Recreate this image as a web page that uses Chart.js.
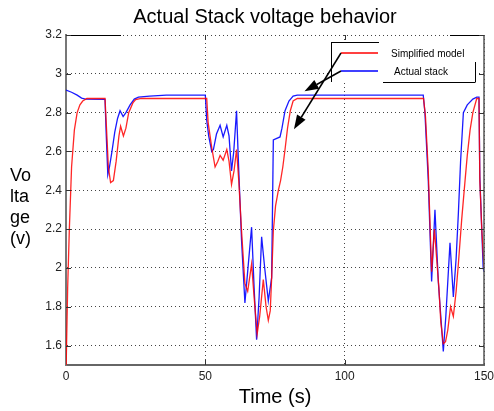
<!DOCTYPE html>
<html>
<head>
<meta charset="utf-8">
<script src="https://cdn.jsdelivr.net/npm/chart.js@4/dist/chart.umd.min.js"></script>
<style>
  html, body { margin: 0; padding: 0; background: #fff; }
  canvas { display: block; }
</style>
</head>
<body>
<canvas id="myChart" width="494" height="411"></canvas>
<script>
// axis ticks
const xTicks = [0, 50, 100, 150];
const yTicks = [1.6, 1.8, 2.0, 2.2, 2.4, 2.6, 2.8, 3.0, 3.2];

// Simplified model (red)
const modelTime = [0, 0.6, 1.2, 2.0, 3.0, 4.0, 5.0, 6.0, 7.5, 14.0, 14.6, 15.2, 16.0, 17.0, 18.0, 19.0, 19.6, 20.6, 21.5, 22.5, 24.0, 25.0, 27.0,
  50.5, 51.0, 52.3, 53.5, 54.5, 55.3, 56.4, 57.7, 58.5, 59.4, 60.3, 61.2, 62.0, 63.0, 64.2, 65.2, 66.6, 67.5, 68.6, 69.5, 70.8, 71.8, 72.6, 73.3, 73.8,
  74.4, 75.2, 76.2, 77.0, 77.8, 78.6, 79.5, 80.5, 81.5, 83.0,
  128.3, 129.0, 130.0, 131.2, 132.2, 133.0, 133.8, 134.5, 135.4, 136.2, 137.0, 138.0, 139.0, 140.0, 140.8, 142.0, 143.2, 144.0, 145.0, 146.0, 147.4, 148.2, 148.5, 149.2, 150];
const modelVolt = [1.45, 1.9, 2.2, 2.52, 2.71, 2.8, 2.84, 2.86, 2.873, 2.873, 2.7, 2.52, 2.44, 2.45, 2.55, 2.68, 2.73, 2.68, 2.72, 2.8, 2.85, 2.867, 2.873,
  2.873, 2.75, 2.62, 2.52, 2.55, 2.58, 2.555, 2.61, 2.55, 2.43, 2.5, 2.61, 2.45, 2.19, 1.92, 1.88, 2.02, 1.85, 1.66, 1.75, 1.94, 1.8, 1.73, 1.78, 1.95,
  2.19, 2.32, 2.40, 2.45, 2.52, 2.61, 2.72, 2.81, 2.86, 2.873,
  2.873, 2.78, 2.5, 1.98, 2.2, 2.05, 1.9, 1.72, 1.61, 1.62, 1.68, 1.8, 1.75, 1.88, 2.02, 2.25, 2.45, 2.58, 2.71, 2.8, 2.873, 2.873, 2.45, 2.2, 2.0];

// Actual stack (blue)
const stackTime = [0, 2, 4, 5.6, 7, 14, 14.4, 15.0, 15.6, 16.5, 17.5, 18.5, 19.4, 20.5, 21.5, 23, 24.5, 26, 30, 36,
  50, 50.5, 51.2, 52.3, 52.9, 54, 55.3, 56.4, 57.7, 58.5, 59.4, 60.2, 61.2, 62.0, 63.0, 64.2, 65.0, 66.6, 67.5, 68.4, 69.3, 70.2, 71.3, 72.6, 73.8,
  74.4, 76.8, 77.5, 78.6, 80.0, 81.5, 83,
  128.2, 128.8, 130, 131.2, 132.4, 133.6, 134.5, 135.4, 136.3, 137.8, 139, 140.0, 140.8, 141.6, 142.6, 144, 146, 147.4, 148.2, 148.5, 149.7, 150];
const stackVolt = [2.916, 2.905, 2.89, 2.875, 2.87, 2.868, 2.7, 2.48, 2.52, 2.6, 2.7, 2.77, 2.81, 2.78, 2.8, 2.84, 2.87, 2.88, 2.885, 2.89,
  2.89, 2.76, 2.68, 2.6, 2.61, 2.69, 2.735, 2.675, 2.735, 2.68, 2.5, 2.6, 2.81, 2.5, 2.14, 1.82, 1.95, 2.21, 1.9, 1.63, 1.85, 2.16, 2.0, 1.83, 1.95,
  2.66, 2.675, 2.72, 2.81, 2.86, 2.885, 2.89,
  2.89, 2.80, 2.45, 1.93, 2.30, 1.93, 1.75, 1.57, 1.75, 2.13, 1.85, 2.05, 2.28, 2.55, 2.80, 2.84, 2.87, 2.88, 2.88, 2.47, 2.0, 1.98];

// arrow tips (time, volt)
const arrowTips = [[81.8, 2.715], [85.6, 2.91]];

const toPoints = (t, v) => t.map((x, i) => ({ x: x, y: v[i] }));

// MATLAB-ish decorations: top/right frame, inward ticks, legend box, arrows, titles
const decorations = {
  id: 'decorations',
  afterDraw(chart) {
    const ctx = chart.ctx;
    const a = chart.chartArea;
    const xs = chart.scales.x, ys = chart.scales.y;
    ctx.save();

    // frame: top (broken) and right
    ctx.strokeStyle = '#000';
    ctx.lineWidth = 1;
    ctx.beginPath();
    ctx.moveTo(a.left, a.top + 0.5); ctx.lineTo(a.left + 55, a.top + 0.5);
    ctx.moveTo(a.right - 34, a.top + 0.5); ctx.lineTo(a.right, a.top + 0.5);
    ctx.stroke();
    ctx.strokeStyle = '#555';
    ctx.lineWidth = 1.5;
    ctx.beginPath();
    ctx.moveTo(a.right, a.top); ctx.lineTo(a.right, a.bottom);
    ctx.stroke();

    // inward ticks
    ctx.strokeStyle = '#333';
    ctx.lineWidth = 1;
    ctx.beginPath();
    yTicks.forEach(v => {
      const y = Math.round(ys.getPixelForValue(v)) + 0.5;
      ctx.moveTo(a.left, y); ctx.lineTo(a.left + 5, y);
      ctx.moveTo(a.right - 5, y); ctx.lineTo(a.right, y);
    });
    xTicks.slice(1, -1).forEach(v => {
      const x = Math.round(xs.getPixelForValue(v)) + 0.5;
      ctx.moveTo(x, a.bottom); ctx.lineTo(x, a.bottom - 5);
      ctx.moveTo(x, a.top); ctx.lineTo(x, a.top + 5);
    });
    ctx.stroke();

    // legend box
    const lx = 331, ly = 42, lr = 475, lb = 82;
    ctx.fillStyle = '#fff';
    ctx.fillRect(lx, ly, lr - lx, lb - ly);
    ctx.strokeStyle = '#000';
    ctx.beginPath();
    ctx.moveTo(lx + 0.5, ly + 0.5); ctx.lineTo(lx + 48, ly + 0.5);
    ctx.moveTo(lx + 0.5, ly); ctx.lineTo(lx + 0.5, lb);
    ctx.moveTo(lx + 52, lb + 0.5); ctx.lineTo(lr, lb + 0.5);
    ctx.moveTo(lr + 0.5, ly + 20); ctx.lineTo(lr + 0.5, lb + 0.5);
    ctx.stroke();

    const entries = [
      { label: 'Simplified model', color: '#ff0000', y: 53, tx: 391 },
      { label: 'Actual stack', color: '#0000ff', y: 71, tx: 394 }
    ];
    ctx.font = '10px "Liberation Sans", Arial, sans-serif';
    ctx.textBaseline = 'middle';
    ctx.textAlign = 'left';
    entries.forEach(e => {
      ctx.strokeStyle = e.color;
      ctx.lineWidth = 1.3;
      ctx.beginPath();
      ctx.moveTo(341, e.y); ctx.lineTo(378, e.y);
      ctx.stroke();
      ctx.fillStyle = '#000';
      ctx.fillText(e.label, e.tx, e.y + 1);
    });

    // arrows from legend lines to curves
    entries.forEach((e, i) => {
      const tip = arrowTips[i];
      const x0 = 341, y0 = e.y;
      const x1 = xs.getPixelForValue(tip[0]), y1 = ys.getPixelForValue(tip[1]);
      const ang = Math.atan2(y1 - y0, x1 - x0);
      const len = 14, half = 5;
      const bx = x1 - len * Math.cos(ang), by = y1 - len * Math.sin(ang);
      ctx.strokeStyle = '#000';
      ctx.lineWidth = 1.5;
      ctx.beginPath();
      ctx.moveTo(x0, y0); ctx.lineTo(bx, by);
      ctx.stroke();
      ctx.fillStyle = '#000';
      ctx.beginPath();
      ctx.moveTo(x1, y1);
      ctx.lineTo(bx + half * Math.sin(ang), by - half * Math.cos(ang));
      ctx.lineTo(bx - half * Math.sin(ang), by + half * Math.cos(ang));
      ctx.closePath();
      ctx.fill();
    });

    // title
    ctx.fillStyle = '#000';
    ctx.textAlign = 'center';
    ctx.font = '20px "Liberation Sans", Arial, sans-serif';
    ctx.fillText('Actual Stack voltage behavior', 265, 17);

    // y label, broken in lines as in the picture
    ctx.textAlign = 'left';
    ctx.font = '18px "Liberation Sans", Arial, sans-serif';
    ['Vo', 'lta', 'ge', '(v)'].forEach((s, i) => ctx.fillText(s, 10, 176 + i * 21));

    ctx.restore();
  }
};

const ctx = document.getElementById('myChart').getContext('2d');
const myChart = new Chart(ctx, {
  type: 'line',
  data: {
    datasets: [
      {
        label: 'Simplified model',
        data: toPoints(modelTime, modelVolt),
        borderColor: 'rgba(255, 0, 0, 0.85)',
        borderWidth: 1.3,
        pointRadius: 0,
        tension: 0
      },
      {
        label: 'Actual stack',
        data: toPoints(stackTime, stackVolt),
        borderColor: 'rgba(0, 0, 255, 0.9)',
        borderWidth: 1.3,
        pointRadius: 0,
        tension: 0
      }
    ]
  },
  options: {
    responsive: false,
    animation: false,
    layout: { padding: { top: 35, right: 10, left: 0, bottom: 0 } },
    plugins: {
      legend: { display: false },
      title: { display: false },
      tooltip: { enabled: false }
    },
    scales: {
      x: {
        type: 'linear',
        min: 0,
        max: 150,
        afterBuildTicks: s => { s.ticks = xTicks.map(v => ({ value: v })); },
        afterFit: s => { s.height = 46; s.paddingLeft = 0; s.paddingRight = 0; },
        ticks: { color: '#222', font: { size: 12, family: '"Liberation Sans", Arial, sans-serif' }, padding: 4, maxRotation: 0 },
        grid: { color: '#444', drawTicks: false },
        border: { display: true, color: '#666', width: 2, dash: [1, 3] },
        title: { display: true, text: 'Time (s)', color: '#000', font: { size: 20, family: '"Liberation Sans", Arial, sans-serif' }, padding: { top: 0, bottom: 2 } }
      },
      y: {
        type: 'linear',
        min: 1.5,
        max: 3.2,
        afterBuildTicks: s => { s.ticks = yTicks.map(v => ({ value: v })); },
        afterFit: s => { s.width = 66; s.paddingTop = 0; s.paddingBottom = 0; },
        ticks: {
          color: '#222',
          font: { size: 12, family: '"Liberation Sans", Arial, sans-serif' },
          padding: 4,
          callback: v => String(Math.round(v * 10) / 10)
        },
        grid: { color: '#444', drawTicks: false },
        border: { display: true, color: '#777', width: 2, dash: [1, 3] }
      }
    }
  },
  plugins: [decorations]
});
</script>
</body>
</html>
